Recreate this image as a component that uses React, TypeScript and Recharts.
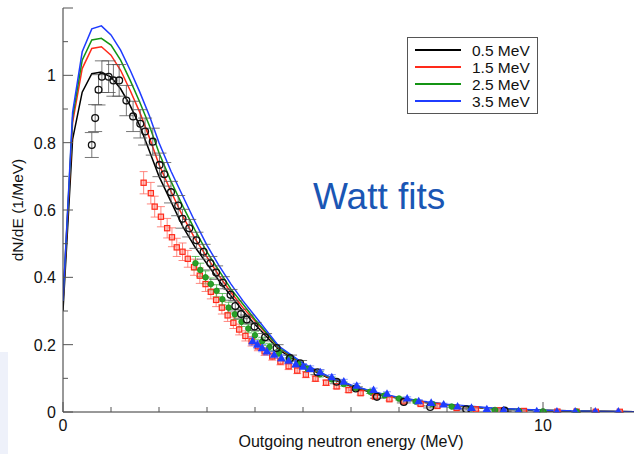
import React from 'react';
import { ComposedChart, Line, Scatter, XAxis, YAxis, ErrorBar, Legend } from 'recharts';

const FONT = '"Liberation Sans", Arial, Helvetica, sans-serif';

// Watt fit curves, sampled at these energies (MeV)
const fitEnergies = [0, 0.2, 0.4, 0.6, 0.8, 1.0, 1.2, 1.4, 1.6, 1.8, 2.0, 2.25, 2.5, 2.75, 3.0, 3.25, 3.5, 3.75, 4.0, 4.5, 5.0, 5.5, 6.0, 6.5, 7.0, 7.5, 8.0, 9.0, 10.0, 11.0, 12.0];
const fit05 = [0.30, 0.81, 0.95, 1.005, 1.01, 0.995, 0.96, 0.91, 0.85, 0.775, 0.70, 0.625, 0.55, 0.49, 0.44, 0.39, 0.345, 0.30, 0.26, 0.185, 0.138, 0.103, 0.076, 0.055, 0.04, 0.029, 0.02, 0.009, 0.004, 0.002, 0.001];
const fit15 = [0.33, 0.86, 1.02, 1.08, 1.085, 1.06, 1.015, 0.955, 0.89, 0.815, 0.735, 0.655, 0.58, 0.515, 0.46, 0.405, 0.355, 0.31, 0.27, 0.19, 0.14, 0.105, 0.078, 0.057, 0.041, 0.03, 0.021, 0.01, 0.005, 0.002, 0.001];
const fit25 = [0.33, 0.875, 1.045, 1.105, 1.11, 1.09, 1.045, 0.985, 0.92, 0.85, 0.77, 0.685, 0.61, 0.54, 0.475, 0.42, 0.365, 0.32, 0.275, 0.192, 0.142, 0.107, 0.079, 0.058, 0.042, 0.031, 0.022, 0.01, 0.005, 0.002, 0.001];
const fit35 = [0.33, 0.89, 1.07, 1.138, 1.147, 1.12, 1.075, 1.015, 0.95, 0.88, 0.80, 0.715, 0.64, 0.565, 0.495, 0.435, 0.38, 0.33, 0.285, 0.195, 0.145, 0.108, 0.08, 0.059, 0.043, 0.032, 0.023, 0.011, 0.005, 0.002, 0.001];

// measured spectra: 0.5 MeV (black circles)
const e05 = [0.60, 0.67, 0.74, 0.81, 0.95, 1.05, 1.17, 1.32, 1.46, 1.61, 1.71, 1.87, 2.01, 2.11, 2.25, 2.40, 2.49, 2.63, 2.78, 2.93, 3.07, 3.19, 3.33, 3.49, 3.59, 3.71, 3.83, 3.99, 4.21, 4.45, 4.73, 4.94, 5.3, 5.7, 6.1, 6.54, 7.1, 7.65, 8.4, 9.2];
const y05 = [0.793, 0.873, 0.957, 0.996, 0.996, 0.985, 0.985, 0.925, 0.878, 0.856, 0.833, 0.803, 0.734, 0.706, 0.653, 0.613, 0.574, 0.546, 0.51, 0.476, 0.442, 0.414, 0.384, 0.348, 0.315, 0.291, 0.275, 0.254, 0.222, 0.19, 0.16, 0.145, 0.118, 0.09, 0.07, 0.045, 0.03, 0.015, 0.008, 0.004];
const err05 = [0.037, 0.04, 0.045, 0.047, 0.047, 0.047, 0.047, 0.045, 0.045, 0.042, 0.04, 0.04, 0.035, 0.035, 0.032, 0.03, 0.028, 0.026, 0.024, 0.022, 0.02, 0.02, 0.018, 0.016, 0.015, 0.014, 0.013, 0.012, 0.011, 0.01, 0.009, 0.008, 0.007, 0.006, 0.005, 0.004, 0.003, 0.003, 0.002, 0.002];

// 1.5 MeV (red squares)
const e15 = [1.68, 1.83, 1.91, 2.04, 2.17, 2.27, 2.37, 2.49, 2.60, 2.73, 2.85, 2.97, 3.08, 3.19, 3.31, 3.43, 3.55, 3.67, 3.80, 3.93, 4.06, 4.2, 4.36, 4.53, 4.7, 4.88, 5.06, 5.26, 5.48, 5.7, 5.95, 6.2, 6.5, 6.8, 7.1, 7.45, 7.8, 8.2, 8.6, 9.1, 9.6, 10.3, 10.7, 11.1, 11.6];
const y15 = [0.681, 0.650, 0.610, 0.580, 0.546, 0.519, 0.489, 0.476, 0.455, 0.43, 0.405, 0.38, 0.357, 0.333, 0.31, 0.287, 0.265, 0.245, 0.226, 0.21, 0.195, 0.18, 0.165, 0.15, 0.136, 0.123, 0.111, 0.099, 0.087, 0.076, 0.065, 0.056, 0.046, 0.038, 0.031, 0.024, 0.018, 0.012, 0.008, 0.005, 0.003, 0.001, 0.001, 0.0005, 0.0005];
const err15 = [0.033, 0.032, 0.031, 0.03, 0.029, 0.028, 0.027, 0.026, 0.025, 0.024, 0.023, 0.022, 0.021, 0.02, 0.019, 0.018, 0.017, 0.016, 0.015, 0.014, 0.013, 0.012, 0.011, 0.01, 0.01, 0.009, 0.009, 0.008, 0.008, 0.007, 0.007, 0.006, 0.006, 0.005, 0.005, 0.004, 0.004, 0.003, 0.003, 0.002, 0.002, 0.002, 0.002, 0.002, 0.002];

// 2.5 MeV (green)
const e25 = [2.76, 2.86, 2.97, 3.08, 3.2, 3.32, 3.45, 3.58, 3.72, 3.86, 4.0, 4.15, 4.3, 4.5, 4.7, 4.9, 5.1, 5.35, 5.6, 5.85, 6.1, 6.4, 6.7, 7.0, 7.35, 7.7, 8.1, 8.5, 9.0, 9.5, 10.0, 10.7];
const y25 = [0.442, 0.422, 0.40, 0.38, 0.36, 0.335, 0.31, 0.29, 0.268, 0.248, 0.228, 0.21, 0.193, 0.175, 0.158, 0.143, 0.128, 0.112, 0.097, 0.083, 0.072, 0.06, 0.049, 0.04, 0.031, 0.023, 0.016, 0.011, 0.006, 0.003, 0.002, 0.001];
const err25 = [0.02, 0.02, 0.019, 0.018, 0.018, 0.017, 0.016, 0.015, 0.014, 0.013, 0.012, 0.012, 0.011, 0.01, 0.01, 0.009, 0.008, 0.008, 0.007, 0.006, 0.006, 0.005, 0.005, 0.004, 0.004, 0.003, 0.003, 0.002, 0.002, 0.002, 0.002, 0.002];

// 3.5 MeV (blue triangles)
const e35 = [3.95, 4.05, 4.15, 4.25, 4.4, 4.55, 4.7, 4.85, 5.0, 5.15, 5.36, 5.6, 5.85, 6.12, 6.47, 6.75, 7.17, 7.41, 7.67, 7.93, 8.22, 8.51, 8.83, 9.18, 9.49, 9.87, 10.29, 10.67, 11.09, 11.57];
const y35 = [0.21, 0.2, 0.19, 0.18, 0.17, 0.16, 0.152, 0.142, 0.135, 0.128, 0.118, 0.103, 0.09, 0.078, 0.065, 0.054, 0.04, 0.032, 0.027, 0.022, 0.016, 0.012, 0.008, 0.005, 0.003, 0.002, 0.001, 0.001, 0.001, 0.001];
const err35 = [0.012, 0.012, 0.011, 0.011, 0.011, 0.01, 0.01, 0.01, 0.009, 0.009, 0.008, 0.008, 0.007, 0.007, 0.006, 0.006, 0.005, 0.005, 0.004, 0.004, 0.003, 0.003, 0.003, 0.002, 0.002, 0.002, 0.002, 0.002, 0.002, 0.002];

const seriesNames = ['0.5 MeV', '1.5 MeV', '2.5 MeV', '3.5 MeV'];
const seriesColors = ['#000000', '#ff2a1a', '#149414', '#1f3cff'];

const xTicks = [0, 1, 2, 3, 4, 5, 6, 7, 8, 9, 10, 11, 12];
const xLabeled = [0, 10];
const yTicks = [0, 0.1, 0.2, 0.3, 0.4, 0.5, 0.6, 0.7, 0.8, 0.9, 1.0, 1.1, 1.2];
const yLabels = ['0', '', '0.2', '', '0.4', '', '0.6', '', '0.8', '', '1', '', ''];

const fitTable = fitEnergies.map((e, i) => ({ e, k05: fit05[i], k15: fit15[i], k25: fit25[i], k35: fit35[i] }));
const pts = (es: number[], ys: number[], errs: number[]) => es.map((e, i) => ({ e, y: ys[i], err: errs[i] }));
const data05 = pts(e05, y05, err05);
const data15 = pts(e15, y15, err15);
const data25 = pts(e25, y25, err25);
const data35 = pts(e35, y35, err35);

const AXIS = '#333';
const TICK = '#555';

const BottomTick = (p: any) => {
  const v = p.payload.value;
  const major = xLabeled.includes(v);
  return (
    <g>
      <line x1={p.x} y1={p.y} x2={p.x} y2={p.y - (major ? 10 : 5)} stroke={TICK} />
      {major && (
        <text x={p.x} y={p.y + 19} textAnchor="middle" fontSize={16} fontFamily={FONT} fill="#111">{v}</text>
      )}
    </g>
  );
};

const TopTick = (p: any) => {
  const major = xLabeled.includes(p.payload.value);
  return <line x1={p.x} y1={p.y} x2={p.x} y2={p.y + (major ? 11 : 5)} stroke={TICK} />;
};

const LeftTick = (p: any) => {
  const label = yLabels[p.index];
  const major = p.index % 2 === 0;
  return (
    <g>
      <line x1={p.x} y1={p.y} x2={p.x + (major ? 10 : 5)} y2={p.y} stroke={TICK} />
      {label && (
        <text x={p.x - 7} y={p.y + 6} textAnchor="end" fontSize={16} fontFamily={FONT} fill="#111">{label}</text>
      )}
    </g>
  );
};

const RightTick = (p: any) => {
  const major = p.index % 2 === 0;
  return <line x1={p.x} y1={p.y} x2={p.x - (major ? 10 : 5)} y2={p.y} stroke={TICK} />;
};

const OpenCircle = (p: any) => <circle cx={p.cx} cy={p.cy} r={3.4} fill="none" stroke="#111" strokeWidth={1.3} />;
const OpenSquare = (p: any) => (
  <rect x={p.cx - 2.6} y={p.cy - 2.6} width={5.2} height={5.2} fill="#ff8a80" fillOpacity={0.5} stroke={seriesColors[1]} strokeWidth={1.2} />
);
const GreenDot = (p: any) => <circle cx={p.cx} cy={p.cy} r={2.8} fill="#2aa02a" stroke={seriesColors[2]} strokeWidth={0.8} />;
const BlueTri = (p: any) => (
  <polygon points={`${p.cx},${p.cy - 4.6} ${p.cx + 4.4},${p.cy + 3} ${p.cx - 4.4},${p.cy + 3}`} fill={seriesColors[3]} />
);

const LegendBox = (props: any) => {
  const items = (props.payload || []).filter((it: any) => seriesNames.includes(it.value));
  return (
    <div
      style={{
        boxSizing: 'border-box',
        width: 131,
        border: '1px solid #555',
        background: '#fff',
        padding: '3.5px 6px 3.5px 7px',
        fontFamily: FONT,
        fontSize: 15.5,
        color: '#111',
      }}
    >
      {items.map((it: any) => (
        <div key={it.value} style={{ display: 'flex', alignItems: 'center', height: 17 }}>
          <span
            style={{
              display: 'inline-block',
              width: 46,
              height: 0,
              borderTop: `2px solid ${seriesColors[seriesNames.indexOf(it.value)]}`,
              marginRight: 11,
            }}
          />
          <span style={{ lineHeight: '17px' }}>{it.value}</span>
        </div>
      ))}
    </div>
  );
};

export default function App() {
  return (
    <div style={{ position: 'fixed', left: 0, top: 0, width: 634, height: 454, overflow: 'hidden', background: '#fff' }}>
      <div style={{ position: 'absolute', left: 0, top: 352, width: 8, height: 102, background: '#eef1fa' }} />
      <ComposedChart width={650} height={454} data={fitTable} margin={{ top: 8, right: 11, bottom: 0, left: 8 }}>
        <XAxis
          dataKey="e"
          type="number"
          domain={[0, 12]}
          allowDataOverflow
          ticks={xTicks}
          interval={0}
          height={42}
          tickSize={0}
          tickMargin={0}
          tick={<BottomTick />}
          axisLine={{ stroke: AXIS }}
          label={{
            content: (p: any) => (
              <text
                x={p.viewBox.x + p.viewBox.width / 2}
                y={p.viewBox.y + 35}
                textAnchor="middle"
                fontSize={16}
                fontFamily={FONT}
                fill="#111"
              >
                Outgoing neutron energy (MeV)
              </text>
            ),
          }}
        />
        <XAxis
          xAxisId="top"
          orientation="top"
          dataKey="e"
          type="number"
          domain={[0, 12]}
          allowDataOverflow
          ticks={xTicks}
          interval={0}
          height={0}
          tickSize={0}
          tickMargin={0}
          tick={<TopTick />}
          axisLine={{ stroke: AXIS }}
        />
        <YAxis
          type="number"
          domain={[0, 1.2]}
          allowDataOverflow
          ticks={yTicks}
          interval={0}
          width={55}
          tickSize={0}
          tickMargin={0}
          tick={<LeftTick />}
          axisLine={{ stroke: AXIS }}
          label={{
            content: (p: any) => {
              const cx = p.viewBox.x + 9;
              const cy = p.viewBox.y + p.viewBox.height / 2;
              return (
                <text
                  x={cx}
                  y={cy}
                  transform={`rotate(-90 ${cx} ${cy})`}
                  textAnchor="middle"
                  dominantBaseline="central"
                  fontSize={15.5}
                  fontFamily={FONT}
                  fill="#111"
                >
                  dN/dE (1/MeV)
                </text>
              );
            },
          }}
        />
        <YAxis
          yAxisId="right"
          orientation="right"
          type="number"
          domain={[0, 1.2]}
          allowDataOverflow
          ticks={yTicks}
          interval={0}
          width={0}
          tickSize={0}
          tickMargin={0}
          tick={<RightTick />}
          axisLine={{ stroke: AXIS }}
        />

        <Line type="linear" dataKey="k05" name={seriesNames[0]} stroke={seriesColors[0]} strokeWidth={1.5} dot={false} isAnimationActive={false} />
        <Line type="linear" dataKey="k15" name={seriesNames[1]} stroke={seriesColors[1]} strokeWidth={1.5} dot={false} isAnimationActive={false} />
        <Line type="linear" dataKey="k25" name={seriesNames[2]} stroke={seriesColors[2]} strokeWidth={1.5} dot={false} isAnimationActive={false} />
        <Line type="linear" dataKey="k35" name={seriesNames[3]} stroke={seriesColors[3]} strokeWidth={1.5} dot={false} isAnimationActive={false} />

        <Scatter data={data15} dataKey="y" shape={OpenSquare} legendType="none" isAnimationActive={false}>
          <ErrorBar dataKey="err" direction="y" width={4} stroke="#ff6a60" strokeOpacity={0.8} strokeWidth={1} />
        </Scatter>
        <Scatter data={data25} dataKey="y" shape={GreenDot} legendType="none" isAnimationActive={false}>
          <ErrorBar dataKey="err" direction="y" width={4} stroke="#40b040" strokeOpacity={0.8} strokeWidth={1} />
        </Scatter>
        <Scatter data={data05} dataKey="y" shape={OpenCircle} legendType="none" isAnimationActive={false}>
          <ErrorBar dataKey="err" direction="y" width={7} stroke="#555" strokeOpacity={0.8} strokeWidth={1} />
        </Scatter>
        <Scatter data={data35} dataKey="y" shape={BlueTri} legendType="none" isAnimationActive={false}>
          <ErrorBar dataKey="err" direction="y" width={4} stroke="#6a80ff" strokeOpacity={0.8} strokeWidth={1} />
        </Scatter>

        <Legend
          layout="vertical"
          align="center"
          verticalAlign="middle"
          content={<LegendBox />}
          wrapperStyle={{ left: 407, top: 37, width: 131 }}
        />
      </ComposedChart>
      <div
        style={{
          position: 'absolute',
          left: 313,
          top: 178,
          fontFamily: FONT,
          fontSize: 37,
          lineHeight: '37px',
          color: '#1a56b4',
          whiteSpace: 'nowrap',
        }}
      >
        Watt fits
      </div>
    </div>
  );
}
